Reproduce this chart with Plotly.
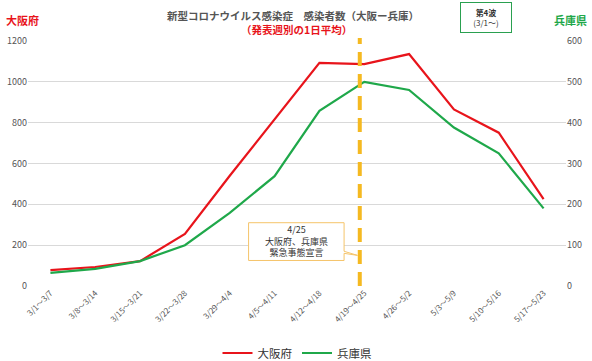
import plotly.graph_objects as go

weeks = ["3/1～3/7", "3/8～3/14", "3/15～3/21", "3/22～3/28", "3/29～4/4", "4/5～4/11",
         "4/12～4/18", "4/19～4/25", "4/26～5/2", "5/3～5/9", "5/10～5/16", "5/17～5/23"]
osaka = [78, 93, 122, 255, 540, 815, 1093, 1087, 1136, 865, 751, 425]
hyogo = [32, 42, 61, 100, 179, 269, 429, 500, 480, 388, 325, 190]

RED = "#E8141B"
GREEN = "#1FA84A"
ORANGE = "#F5B921"
FONT = "Noto Sans CJK JP"

x_idx = list(range(len(weeks)))

PLOT_TOP, PLOT_BOTTOM, PLOT_LEFT, PLOT_W = 41, 286, 28, 538


def py(p):
    return (PLOT_BOTTOM - p) / (PLOT_BOTTOM - PLOT_TOP)


def px(p):
    return (p - PLOT_LEFT) / PLOT_W


fig = go.Figure()
fig.add_trace(go.Scatter(x=x_idx, y=osaka, mode="lines", name="大阪府",
                         line=dict(color=RED, width=2.2), yaxis="y"))
fig.add_trace(go.Scatter(x=x_idx, y=hyogo, mode="lines", name="兵庫県",
                         line=dict(color=GREEN, width=2.2), yaxis="y2"))

# dashed vertical line (4/25)
fig.add_shape(type="line", xref="x", yref="paper", x0=6.9, x1=6.9, y0=0, y1=py(38),
              line=dict(color=ORANGE, width=4, dash="14px,8px"))

# callout box
fig.add_shape(type="path", xref="x", yref="y",
              path="M 4.42 310 L 6.55 310 L 6.55 170 L 6.85 150 L 6.55 160 L 6.55 125 L 4.42 125 Z",
              line=dict(color="#F5C46A", width=1), fillcolor="white")
fig.add_annotation(x=5.48, y=218, xref="x", yref="y", showarrow=False,
                   text="4/25<br>大阪府、兵庫県<br>緊急事態宣言",
                   font=dict(family=FONT, size=9, color="#333333"), align="center")

# titles
fig.add_annotation(xref="paper", yref="paper", x=px(293), y=py(15), xanchor="center", yanchor="middle",
                   showarrow=False, text="<b>新型コロナウイルス感染症　感染者数（大阪ー兵庫）</b>",
                   font=dict(family=FONT, size=10.5, color="#555555"))
fig.add_annotation(xref="paper", yref="paper", x=px(296), y=py(30), xanchor="center", yanchor="middle",
                   showarrow=False, text="<b>（発表週別の1日平均）</b>",
                   font=dict(family=FONT, size=10.5, color=RED))
fig.add_annotation(xref="paper", yref="paper", x=px(486), y=py(18), xanchor="center",
                   yanchor="middle", showarrow=False, text="<b>第4波</b><br>(3/1～)",
                   font=dict(family=FONT, size=8, color="#333333"),
                   bordercolor="#2AA050", borderwidth=1, borderpad=4, bgcolor="white", width=42)
fig.add_annotation(xref="paper", yref="paper", x=px(4), y=py(20), xanchor="left", yanchor="middle",
                   showarrow=False, text="<b>大阪府</b>", font=dict(family=FONT, size=11, color=RED))
fig.add_annotation(xref="paper", yref="paper", x=px(589), y=py(20), xanchor="right",
                   yanchor="middle", showarrow=False, text="<b>兵庫県</b>",
                   font=dict(family=FONT, size=11, color=GREEN))

fig.update_layout(
    width=592, height=361,
    margin=dict(l=28, r=26, t=41, b=75, autoexpand=False),
    paper_bgcolor="white", plot_bgcolor="white",
    font=dict(family=FONT, color="#555555"),
    showlegend=True,
    legend=dict(orientation="h", x=0.5, xanchor="center", y=py(353), yanchor="middle",
                font=dict(family=FONT, size=11.5, color="#333333")),
    xaxis=dict(range=[-0.5, 11.5], tickmode="array", tickvals=x_idx, ticktext=weeks,
               tickangle=-45, tickfont=dict(size=8, color="#555555"), showgrid=False,
               zeroline=False, showline=False, ticks="", automargin=False),
    yaxis=dict(range=[0, 1200], dtick=200, showgrid=True, gridcolor="#D9D9D9", gridwidth=1,
               zeroline=False, tickfont=dict(size=9, color="#555555"), ticks="", automargin=False),
    yaxis2=dict(range=[0, 600], dtick=100, overlaying="y", side="right", showgrid=False,
                zeroline=False, tickfont=dict(size=9, color="#555555"), ticks="", automargin=False),
)

fig.write_html("out.html", config={"displayModeBar": False},
               post_script="document.body.style.margin='0';document.body.style.overflow='hidden';")
